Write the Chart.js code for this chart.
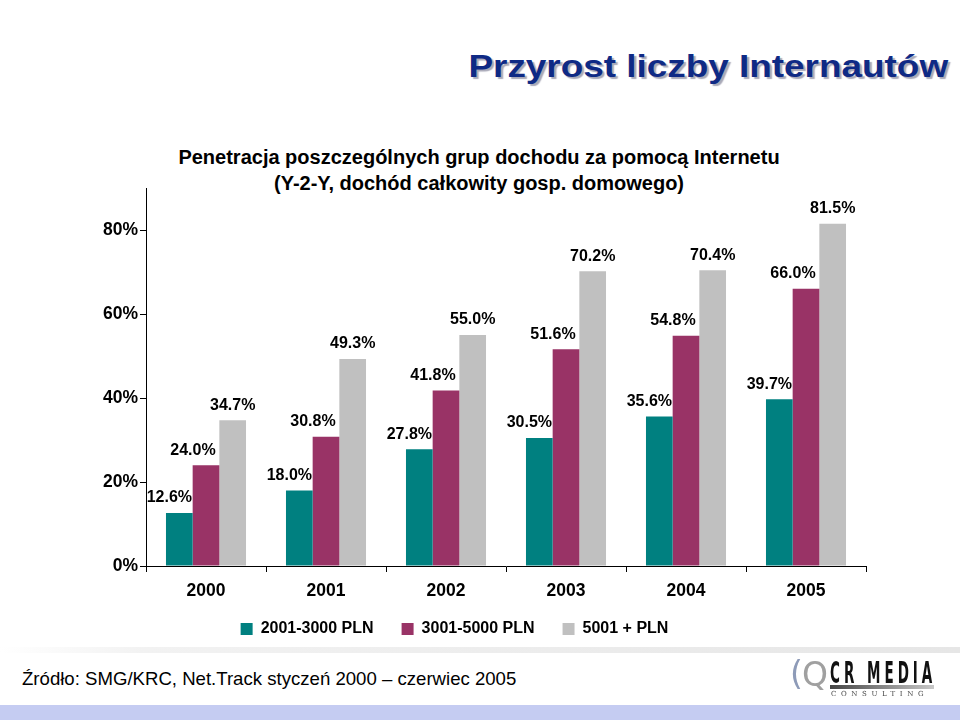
<!DOCTYPE html>
<html>
<head>
<meta charset="utf-8">
<script src="https://cdn.jsdelivr.net/npm/chart.js@4"></script>
<style>
  body { margin: 0; background: #fff; font-family: "Liberation Sans", Arial, sans-serif; }
  #page { position: relative; width: 960px; height: 720px; overflow: hidden; background: #fff; }
  #title { position: absolute; right: 12px; top: 49px; font-size: 31px; font-weight: bold; color: #0f2a85;
           text-shadow: 2px 2px 1px #a9a9b8; white-space: nowrap; line-height: 36px;
           transform: scaleX(1.19); transform-origin: right top; }
  #subtitle { position: absolute; left: 0; width: 958px; top: 144px; text-align: center; font-size: 20px;
              font-weight: bold; line-height: 26px; color: #000; }
  #chart { position: absolute; left: 43px; top: 0; }
  #rule { position: absolute; left: 0; top: 647px; width: 960px; height: 6px;
          background: linear-gradient(to right, #fff 0%, #f2f2f2 15%, #e6e6e6 100%); }
  #source { position: absolute; left: 22px; top: 668px; font-size: 18.6px; color: #000; white-space: nowrap; }
  #band { position: absolute; left: 0; top: 705px; width: 960px; height: 15px; background: #c5ccf2; }
  #logo { position: absolute; left: 788px; top: 658px; width: 152px; height: 42px; white-space: nowrap; }
  #logo span, #logo div { position: absolute; display: block; white-space: nowrap; }
  #logo .paren { left: 2px; top: -4px; font-size: 33px; color: #8e9bb8; font-family: "DejaVu Sans", sans-serif; }
  #logo .q { left: 14px; top: -3px; font-size: 33px; color: #a0a0a0; font-family: "DejaVu Sans", sans-serif; }
  #logo .name { left: 42px; top: -3px; font-size: 30px; font-weight: bold; color: #111;
                font-family: "DejaVu Sans Condensed", "DejaVu Sans", sans-serif;
                transform: scaleX(0.5); transform-origin: left top; letter-spacing: 8px; }
  #logo .bar { left: 42px; top: 27px; width: 104px; height: 4px;
               background: linear-gradient(to right, #444, #c8c8c8); }
  #logo .cons { left: 43px; top: 32px; font-size: 7px; letter-spacing: 4.6px; color: #444;
                font-family: "DejaVu Serif", serif; }
</style>
</head>
<body>
<div id="page">
  <div id="title">Przyrost liczby Internautów</div>
  <div id="subtitle">Penetracja poszczególnych grup dochodu za pomocą Internetu<br>(Y-2-Y, dochód całkowity gosp. domowego)</div>
  <canvas id="chart" width="917" height="660"></canvas>
  <div id="rule"></div>
  <div id="source">Źródło: SMG/KRC, Net.Track styczeń 2000 – czerwiec 2005</div>
  <div id="logo">
    <span class="paren">(</span>
    <span class="q">Q</span>
    <span class="name">CR MEDIA</span>
    <div class="bar"></div>
    <span class="cons">CONSULTING</span>
  </div>
  <div id="band"></div>
</div>
<script>
// Chart data
const years = ['2000', '2001', '2002', '2003', '2004', '2005'];
const seriesNames = ['2001-3000 PLN', '3001-5000 PLN', '5001 + PLN'];
const lowIncome = [12.6, 18.0, 27.8, 30.5, 35.6, 39.7];
const midIncome = [24.0, 30.8, 41.8, 51.6, 54.8, 66.0];
const highIncome = [34.7, 49.3, 55.0, 70.2, 70.4, 81.5];
const yTicks = [0, 20, 40, 60, 80];

// Colours
const barColors = ['#008080', '#993366', '#c0c0c0'];
// label nudges (px) per series, to sit like the original
const labelShift = [-10, -13, 0];

const FONT = '"Liberation Sans", Arial, sans-serif';
Chart.defaults.font.family = FONT;
Chart.defaults.font.size = 16;
Chart.defaults.font.weight = 'bold';
Chart.defaults.color = '#000';

// Value labels above bars
const barLabels = {
    id: 'barLabels',
    afterDatasetsDraw(chart) {
        const ctx = chart.ctx;
        ctx.save();
        ctx.font = 'bold 16px ' + FONT;
        ctx.fillStyle = '#000';
        ctx.textAlign = 'center';
        ctx.textBaseline = 'middle';
        chart.data.datasets.forEach((ds, i) => {
            chart.getDatasetMeta(i).data.forEach((bar, j) => {
                ctx.fillText(ds.data[j].toFixed(1) + '%', bar.x + labelShift[i], bar.y - 15);
            });
        });
        ctx.restore();
    }
};

// pull the legend up a bit closer to the axis
const legendNudge = {
    id: 'legendNudge',
    afterLayout(chart) {
        chart.legend.top = 593;
        chart.legend.bottom = 593 + chart.legend.height;
    }
};

const datasets = [lowIncome, midIncome, highIncome].map((vals, i) => ({
    label: seriesNames[i],
    data: vals,
    backgroundColor: barColors[i],
    borderWidth: 0,
    categoryPercentage: 0.667,
    barPercentage: 1.0
}));

new Chart(document.getElementById('chart'), {
    type: 'bar',
    data: { labels: years, datasets: datasets },
    options: {
        responsive: false,
        animation: false,
        layout: { padding: { top: 188, right: 94, left: 0, bottom: 0 } },
        plugins: {
            title: { display: false },
            tooltip: { enabled: false },
            legend: {
                position: 'bottom',
                labels: {
                    boxWidth: 12,
                    boxHeight: 12,
                    padding: 28,
                    font: { size: 16, weight: 'bold' },
                    color: '#000'
                }
            }
        },
        scales: {
            x: {
                afterFit(scale) { scale.height = 40; },
                border: { color: '#000', width: 1 },
                grid: { offset: true, drawOnChartArea: false, drawTicks: true, tickLength: 6, color: '#000' },
                ticks: { padding: 9, font: { size: 17.5, weight: 'bold' }, color: '#000' }
            },
            y: {
                min: 0,
                max: 90,
                bounds: 'data',
                afterFit(scale) { scale.width = 103; },
                afterBuildTicks(scale) { scale.ticks = yTicks.map(v => ({ value: v })); },
                border: { color: '#000', width: 1 },
                grid: { drawOnChartArea: false, drawTicks: true, tickLength: 6, color: '#000' },
                ticks: {
                    padding: 2,
                    font: { size: 17.5, weight: 'bold' },
                    color: '#000',
                    callback: v => v + '%'
                }
            }
        }
    },
    plugins: [barLabels, legendNudge]
});
</script>
</body>
</html>
